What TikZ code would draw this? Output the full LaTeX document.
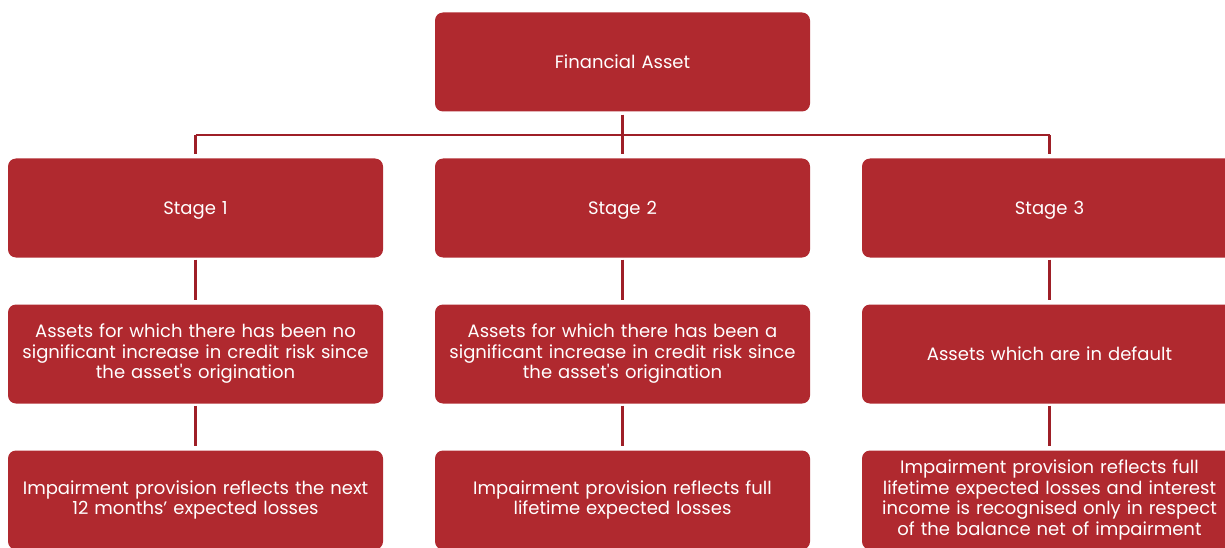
\documentclass[tikz,border=0pt]{standalone}
\usepackage{fontspec}
\setmainfont{Poppins}
\definecolor{boxred}{HTML}{B0292F}
\definecolor{linered}{HTML}{9E1F27}
\begin{document}
\begin{tikzpicture}[x=1pt,y=-1pt,
  box/.style={fill=boxred, draw=none, rounded corners=8pt, minimum width=375pt, minimum height=99pt,
    text=white, align=center, text width=368pt, inner sep=0pt,
    font=\fontsize{18}{20.5}\selectfont},
  single/.style={text depth=0pt},
  conn/.style={draw=linered, line width=2.6pt}]
\useasboundingbox (0,0) rectangle (1225,548);
\clip (0,0) rectangle (1225,548);
\node[box,single] (fa) at (622.5,62) {Financial Asset};
\node[box,single] (s1) at (195.5,208) {Stage 1};
\node[box,single] (s2) at (622.5,208) {Stage 2};
\node[box,single] (s3) at (1049.5,208) {Stage 3};
\node[box] (a1) at (195.5,354) {Assets for which there has been no\\significant increase in credit risk since\\the asset\textquotesingle s origination};
\node[box] (a2) at (622.5,354) {Assets for which there has been a\\significant increase in credit risk since\\the asset\textquotesingle s origination};
\node[box,single] (a3) at (1049.5,354) {Assets which are in default};
\node[box] (i1) at (195.5,500) {Impairment provision reflects the next\\12 months’ expected losses};
\node[box] (i2) at (622.5,500) {Impairment provision reflects full\\lifetime expected losses};
\node[box] (i3) at (1049.5,500) {Impairment provision reflects full\\lifetime expected losses and interest\\income is recognised only in respect\\of the balance net of impairment};
\coordinate (bus) at (622.5,135);
\draw[conn] ([yshift=-3pt]fa.south) -- ([yshift=4pt]s2.north);
\draw[conn] (s1.north |- bus) -- (s3.north |- bus);
\draw[conn] (s1.north |- bus) -- ([yshift=4pt]s1.north);
\draw[conn] (s3.north |- bus) -- ([yshift=4pt]s3.north);
\foreach \u/\v in {s1/a1,s2/a2,s3/a3,a1/i1,a2/i2,a3/i3}
  \draw[conn] ([yshift=-2pt]\u.south) -- ([yshift=4pt]\v.north);
\end{tikzpicture}
\end{document}
